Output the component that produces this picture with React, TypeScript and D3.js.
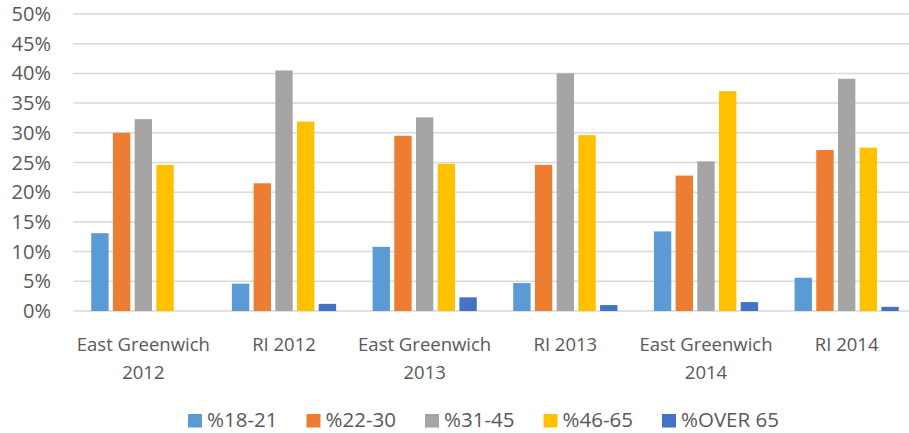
import React from "react";
import * as d3 from "d3";

const categories: string[][] = [
  ["East Greenwich", "2012"],
  ["RI 2012"],
  ["East Greenwich", "2013"],
  ["RI 2013"],
  ["East Greenwich", "2014"],
  ["RI 2014"],
];
const seriesNames = ["%18-21", "%22-30", "%31-45", "%46-65", "%OVER 65"];
const seriesColors = ["#5B9BD5", "#ED7D31", "#A5A5A5", "#FFC000", "#4472C4"];
const s18_21 = [13.1, 4.6, 10.8, 4.7, 13.4, 5.6];
const s22_30 = [30.0, 21.5, 29.5, 24.6, 22.8, 27.1];
const s31_45 = [32.3, 40.5, 32.6, 40.0, 25.2, 39.1];
const s46_65 = [24.6, 31.9, 24.8, 29.6, 37.0, 27.5];
const sOver65 = [0, 1.2, 2.3, 1.0, 1.5, 0.7];
const yTicks = [0, 5, 10, 15, 20, 25, 30, 35, 40, 45, 50];

const W = 909;
const H = 433;
const FONT = "'Open Sans', sans-serif";
const TEXT = "#595959";

export default function App() {
  const series = [s18_21, s22_30, s31_45, s46_65, sOver65];
  const catKeys = categories.map((c) => c.join(" "));
  const x0 = d3.scaleBand<string>().domain(catKeys).range([73, 917]);
  const x1 = d3
    .scaleBand<string>()
    .domain(seriesNames)
    .range([0, x0.bandwidth()])
    .paddingInner(0.2)
    .paddingOuter(0.84);
  const y = d3.scaleLinear().domain([0, 50]).range([311, 14]);

  const legendStart = 188;
  const legendStep = 118.5;

  return (
    <svg
      width={W}
      height={H}
      style={{ position: "absolute", left: 0, top: 0, background: "#fff" }}
      fontFamily={FONT}
    >
      <rect x={0} y={0} width={W} height={H} fill="#fff" />
      {yTicks.map((t) => (
        <g key={t}>
          <line
            x1={73}
            x2={W}
            y1={y(t)}
            y2={y(t)}
            stroke="#D9D9D9"
            strokeWidth={1.5}
          />
          <text
            x={51}
            y={y(t) + 7}
            textAnchor="end"
            fontSize={20}
            fill={TEXT}
          >
            {t + "%"}
          </text>
        </g>
      ))}
      {catKeys.map((ck, ci) =>
        series.map((vals, si) => {
          const v = vals[ci];
          if (!v) return null;
          return (
            <rect
              key={ck + si}
              x={(x0(ck) as number) + (x1(seriesNames[si]) as number)}
              y={y(v)}
              width={x1.bandwidth()}
              height={y(0) - y(v)}
              fill={seriesColors[si]}
            />
          );
        })
      )}
      {categories.map((lines, ci) => {
        const cx = (x0(catKeys[ci]) as number) + x0.bandwidth() / 2;
        return (
          <g key={ci}>
            {lines.map((ln, li) => (
              <text
                key={li}
                x={cx}
                y={351 + li * 27.6}
                textAnchor="middle"
                fontSize={18.5}
                fill={TEXT}
              >
                {ln}
              </text>
            ))}
          </g>
        );
      })}
      {seriesNames.map((name, i) => {
        const lx = legendStart + i * legendStep;
        return (
          <g key={name}>
            <rect x={lx} y={414} width={14} height={13.5} fill={seriesColors[i]} />
            <text x={lx + 19} y={427.3} fontSize={20.5} fill={TEXT}>
              {name}
            </text>
          </g>
        );
      })}
    </svg>
  );
}
